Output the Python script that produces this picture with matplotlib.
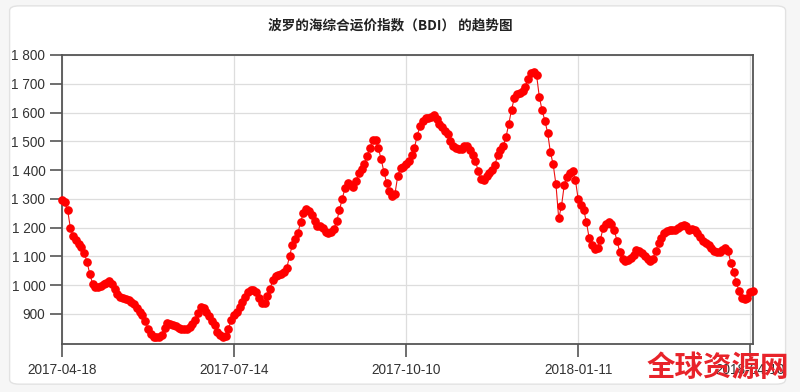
# BDI trend chart recreated with matplotlib.
import matplotlib
matplotlib.use('Agg')
import matplotlib.pyplot as plt
from matplotlib.patches import FancyBboxPatch
from matplotlib.ticker import FuncFormatter

plt.rcParams['font.family'] = ['Liberation Sans', 'Noto Sans CJK SC', 'DejaVu Sans']

# Title and x tick labels (one label every quarter of trading days).
title = '波罗的海综合运价指数（BDI） 的趋势图'
dateLabels = ['2017-04-18', '2017-07-14', '2017-10-10', '2018-01-11', '2018-04-10']
labelStep = 62

# Daily BDI values, 2017-04-18 to 2018-04-10.
bdi = [
    1296, 1288, 1262, 1200, 1170, 1156, 1144, 1134, 1113, 1080,
    1040, 1005, 993, 995, 998, 1003, 1008, 1013, 1005, 985,
    968, 959, 955, 952, 949, 942, 933, 920, 907, 895,
    875, 848, 830, 821, 818, 821, 828, 851, 867, 866,
    862, 857, 850, 847, 846, 847, 854, 863, 880, 902,
    925, 921, 908, 893, 876, 860, 838, 825, 818, 822,
    848, 880, 897, 907, 922, 940, 960, 975, 982, 983,
    977, 955, 938, 938, 963, 988, 1018, 1030, 1035, 1040,
    1046, 1060, 1100, 1140, 1159, 1180, 1220, 1252, 1263, 1258,
    1245, 1222, 1205, 1204, 1200, 1186, 1182, 1184, 1195, 1222,
    1262, 1300, 1338, 1356, 1347, 1340, 1362, 1388, 1402, 1420,
    1450, 1478, 1503, 1504, 1476, 1438, 1394, 1355, 1326, 1310,
    1318, 1380, 1407, 1412, 1420, 1432, 1452, 1477, 1520, 1552,
    1571, 1580, 1582, 1586, 1590, 1576, 1560, 1548, 1536, 1524,
    1502, 1482, 1475, 1472, 1472, 1484, 1482, 1470, 1453, 1432,
    1395, 1368, 1366, 1378, 1389, 1401, 1418, 1452, 1470, 1483,
    1515, 1560, 1610, 1650, 1664, 1669, 1674, 1690, 1718, 1736,
    1742, 1732, 1655, 1608, 1572, 1530, 1462, 1420, 1350, 1232,
    1275, 1348, 1377, 1388, 1396, 1366, 1300, 1278, 1262, 1218,
    1162, 1138, 1125, 1130, 1158, 1198, 1214, 1220, 1213, 1191,
    1154, 1115, 1090, 1082, 1087, 1095, 1103, 1122, 1120, 1112,
    1100, 1090, 1085, 1092, 1120, 1145, 1165, 1182, 1188, 1190,
    1191, 1192, 1200, 1207, 1210, 1204, 1192, 1196, 1193, 1181,
    1166, 1154, 1146, 1138, 1130, 1120, 1116, 1116, 1121, 1128,
    1120, 1078, 1046, 1010, 978, 955, 950, 955, 975, 980,
]
yTicks = list(range(900, 1900, 100))

fig = plt.figure(figsize=(8, 3.92), dpi=100)
fig.patch.set_facecolor('#f6f6f6')

# White card behind the chart.
card = FancyBboxPatch((0.012, 0.02), 0.97, 0.965, boxstyle='round,pad=0,rounding_size=0.012',
                      transform=fig.transFigure, facecolor='white', edgecolor='#e2e2e2',
                      linewidth=1.0, zorder=-5)
fig.patches.append(card)

ax = fig.add_axes([0.0775, 0.1224, 0.8637, 0.7373])
ax.set_facecolor('white')

x = list(range(len(bdi)))
ax.plot(x, bdi, color='#ee1111', linewidth=0.8, marker='o', markersize=5.2,
        markerfacecolor='#ff0000', markeredgecolor='#ff0000', zorder=3, clip_on=False)

ax.set_xlim(0, len(bdi) - 1)
ax.set_ylim(795, 1800)

ax.set_yticks(yTicks)
ax.yaxis.set_major_formatter(FuncFormatter(lambda v, p: '{:,}'.format(int(v)).replace(',', ' ')))
tickPos = [i * labelStep for i in range(len(dateLabels))]
ax.set_xticks(tickPos)
ax.set_xticklabels(dateLabels)

ax.grid(True, color='#dddddd', linewidth=0.9)
ax.set_axisbelow(True)
for side in ['left', 'right', 'top', 'bottom']:
    ax.spines[side].set_color('#555555')
    ax.spines[side].set_linewidth(1.3)
ax.tick_params(axis='y', length=9, width=1.2, color='#555555', pad=3, labelsize=9.8, labelcolor='#333333')
ax.tick_params(axis='x', length=9, width=1.2, color='#555555', pad=5, labelsize=9.8, labelcolor='#333333')

fig.text(0.4875, 0.936, title, ha='center', va='center', fontsize=9.8, fontweight='bold',
         color='#222222', family=['Noto Sans CJK SC', 'DejaVu Sans'])

# Site watermark in the lower right corner.
fig.text(0.808, 0.062, '全球资源网', ha='left', va='center', fontsize=20.5, fontweight='bold',
         color='#e8232a', family=['Noto Sans CJK SC', 'DejaVu Sans'])

fig.savefig('out.png', dpi=100, facecolor=fig.get_facecolor())
